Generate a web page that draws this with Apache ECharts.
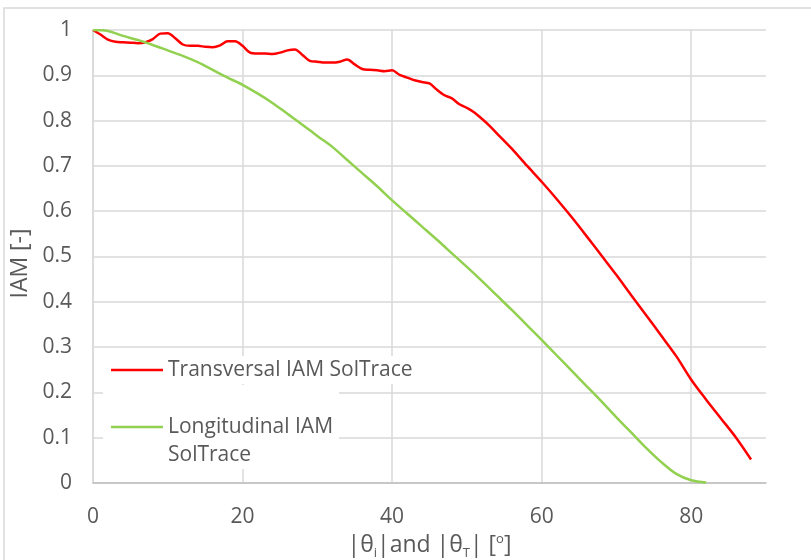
<!DOCTYPE html>
<html>
<head>
<meta charset="utf-8">
<script src="https://cdn.jsdelivr.net/npm/echarts@6/dist/echarts.min.js"></script>
<style>
  html, body { margin: 0; padding: 0; background: #fff; }
  #chart { width: 811px; height: 560px; }
</style>
</head>
<body>
<div id="chart"></div>
<script>
// Transversal IAM (SolTrace)
var transAngle = [0, 1, 2, 3, 4, 5, 6, 7, 8, 9, 10, 11, 12, 13, 14, 15, 16, 17, 18, 19,
  20, 21, 22, 23, 24, 25, 26, 27, 28, 29, 30, 31, 32, 33, 34, 35, 36, 37, 38, 39,
  40, 41, 42, 43, 44, 45, 46, 47, 48, 49, 50, 51, 52, 53, 54, 56, 58, 60, 62, 64,
  66, 68, 70, 72, 74, 76, 78, 80, 82, 84, 86, 88];
var transIAM = [1.0, 0.99, 0.979, 0.974, 0.973, 0.972, 0.971, 0.973, 0.98, 0.992, 0.993, 0.982, 0.968, 0.965, 0.965, 0.963, 0.962, 0.966, 0.975, 0.975,
  0.965, 0.95, 0.948, 0.948, 0.947, 0.95, 0.955, 0.957, 0.945, 0.932, 0.93, 0.928, 0.928, 0.93, 0.935, 0.924, 0.914, 0.912, 0.911, 0.909,
  0.911, 0.901, 0.895, 0.889, 0.885, 0.882, 0.868, 0.856, 0.849, 0.836, 0.828, 0.818, 0.804, 0.789, 0.772, 0.738, 0.701, 0.665, 0.627, 0.587,
  0.545, 0.502, 0.459, 0.414, 0.37, 0.325, 0.28, 0.228, 0.184, 0.142, 0.1, 0.052];

// Longitudinal IAM (SolTrace)
var longAngle = [0, 2, 4, 6, 8, 10, 12, 14, 16, 18, 20, 22, 24, 26, 28, 30, 32, 34, 36, 38,
  40, 42, 44, 46, 48, 50, 52, 54, 56, 58, 60, 62, 64, 66, 68, 70, 72, 74, 76, 78, 80, 82];
var longIAM = [1.0, 0.998, 0.987, 0.978, 0.967, 0.955, 0.943, 0.929, 0.912, 0.895, 0.879, 0.86, 0.839, 0.815, 0.791, 0.766, 0.742, 0.713, 0.684, 0.655,
  0.624, 0.595, 0.566, 0.537, 0.507, 0.477, 0.446, 0.414, 0.382, 0.349, 0.316, 0.282, 0.248, 0.214, 0.18, 0.145, 0.111, 0.077, 0.046, 0.02, 0.006, 0.001];

var seriesNames = ['Transversal IAM SolTrace', 'Longitudinal IAM SolTrace'];

function pairs(xs, ys) {
  var out = [];
  for (var i = 0; i < xs.length; i++) out.push([xs[i], ys[i]]);
  return out;
}

var FONT = 'Open Sans';
var TXT = '#595959';

var myChart = echarts.init(document.getElementById('chart'));

var legendBase = {
  left: 103,
  orient: 'vertical',
  backgroundColor: '#fff',
  icon: 'rect',
  itemWidth: 52,
  itemHeight: 2.5,
  itemGap: 0,
  padding: [0, 6, 0, 8],
  textStyle: { fontFamily: FONT, fontSize: 21, color: TXT, lineHeight: 28 }
};

var option = {
  animation: false,
  textStyle: { fontFamily: FONT },
  grid: { left: 93, right: 45, top: 30, bottom: 77, outerBoundsMode: 'none' },
  graphic: [{
    type: 'rect',
    shape: { x: 4, y: 8, width: 830, height: 580 },
    style: { fill: 'none', stroke: '#D9D9D9', lineWidth: 1.5 },
    z: -1
  }],
  legend: [
    Object.assign({}, legendBase, {
      top: 356,
      data: [seriesNames[0]]
    }),
    Object.assign({}, legendBase, {
      top: 385,
      data: [seriesNames[1]],
      // blank first line keeps the icon level with "Longitudinal IAM"
      formatter: function () { return ' \nLongitudinal IAM\nSolTrace'; }
    })
  ],
  xAxis: {
    type: 'value',
    min: 0,
    max: 90,
    interval: 20,
    name: '{n||θ}{s|i}{n||and |θ}{s|T}{n|| [}{p|o}{n|]}',
    nameLocation: 'middle',
    nameGap: 46,
    nameTextStyle: {
      rich: {
        n: { fontFamily: FONT, fontSize: 23, color: TXT },
        s: { fontFamily: FONT, fontSize: 13, color: TXT, padding: [16, 0, 0, 0] },
        p: { fontFamily: FONT, fontSize: 13, color: TXT, padding: [0, 0, 12, 0] }
      }
    },
    axisLine: { show: true, lineStyle: { color: '#BFBFBF', width: 1.5 } },
    axisTick: { show: false },
    axisLabel: { fontSize: 21, color: TXT, margin: 24, showMaxLabel: false },
    splitLine: { show: true, showMaxLine: false, lineStyle: { color: '#D9D9D9', width: 1.5 } }
  },
  yAxis: {
    type: 'value',
    min: 0,
    max: 1,
    interval: 0.1,
    name: 'IAM [-]',
    nameLocation: 'middle',
    nameRotate: 90,
    nameGap: 57,
    nameTextStyle: { fontFamily: FONT, fontSize: 23, color: TXT, padding: [0, 14, 0, 0] },
    axisLine: { show: true, lineStyle: { color: '#D9D9D9', width: 1.5 } },
    axisTick: { show: false },
    axisLabel: {
      fontSize: 21, color: TXT, margin: 21,
      formatter: function (v) { return String(Math.round(v * 10) / 10); }
    },
    splitLine: { show: true, lineStyle: { color: '#D9D9D9', width: 1.5 } }
  },
  series: [
    {
      name: seriesNames[0],
      type: 'line',
      data: pairs(transAngle, transIAM),
      smooth: 0.3,
      symbol: 'none',
      lineStyle: { color: '#FF0000', width: 2.5 },
      itemStyle: { color: '#FF0000' }
    },
    {
      name: seriesNames[1],
      type: 'line',
      data: pairs(longAngle, longIAM),
      smooth: 0.3,
      symbol: 'none',
      lineStyle: { color: '#92D050', width: 2.5 },
      itemStyle: { color: '#92D050' }
    }
  ]
};

myChart.setOption(option);
</script>
</body>
</html>
